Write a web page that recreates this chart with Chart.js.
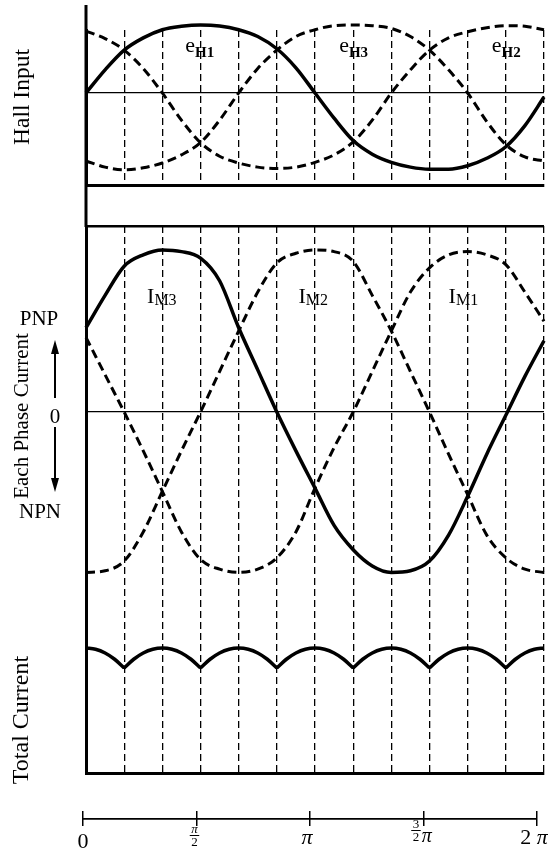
<!DOCTYPE html>
<html>
<head>
<meta charset="utf-8">
<title>Hall input, phase current and total current</title>
<script src="https://cdn.jsdelivr.net/npm/chart.js@4.4.1/dist/chart.umd.min.js"></script>
<style>
  html, body { margin: 0; padding: 0; background: #fff; }
  #wrap { position: relative; width: 548px; height: 857px; }
  #wrap canvas { position: absolute; left: 0; top: 0; }
</style>
</head>
<body>
<div id="wrap">
  <canvas id="hall" width="548" height="857"></canvas>
  <canvas id="phase" width="548" height="857"></canvas>
  <canvas id="axis" width="548" height="857"></canvas>
</div>
<script>
// electrical angle, degrees (0 .. 2π)
const angle = [0, 15, 30, 45, 60, 75, 90, 105, 120, 135, 150, 165, 180,
  195, 210, 225, 240, 255, 270, 285, 300, 315, 330, 345, 360]

// Hall sensor outputs, 1 = top of eH1
const eH1 = [0, 0.34, 0.63, 0.81, 0.93, 0.98, 1.0, 0.985, 0.93, 0.83, 0.65, 0.37, 0,
  -0.37, -0.70, -0.90, -1.02, -1.09, -1.12, -1.12, -1.07, -0.96, -0.79, -0.48, -0.06]
const eH2 = [0.91, 0.80, 0.63, 0.36, 0, -0.40, -0.73, -0.93, -1.03, -1.09, -1.11, -1.09, -1.02,
  -0.91, -0.72, -0.40, 0, 0.34, 0.63, 0.81, 0.90, 0.96, 0.99, 0.98, 0.93]
const eH3 = [-1.0, -1.09, -1.13, -1.10, -1.03, -0.91, -0.73, -0.40, 0, 0.36, 0.63, 0.83, 0.93,
  0.99, 1.0, 0.99, 0.95, 0.83, 0.63, 0.34, 0, -0.42, -0.76, -0.94, -1.0]

// phase currents, 1 = PNP peak
const iM3 = [0.52, 0.72, 0.90, 0.97, 1.0, 0.99, 0.95, 0.81, 0.52, 0.26, 0, -0.24, -0.47,
  -0.70, -0.85, -0.95, -0.99, -0.98, -0.92, -0.76, -0.52, -0.26, -0.02, 0.22, 0.44]
const iM2 = [-0.99, -0.98, -0.92, -0.74, -0.49, -0.24, 0, 0.25, 0.50, 0.74, 0.92, 0.98, 1.0,
  0.99, 0.93, 0.72, 0.50, 0.25, 0, -0.26, -0.51, -0.76, -0.90, -0.97, -0.99]
const iM1 = [0.46, 0.23, 0, -0.24, -0.49, -0.74, -0.91, -0.97, -0.99, -0.97, -0.90, -0.74, -0.47,
  -0.22, 0, 0.25, 0.50, 0.74, 0.89, 0.97, 0.99, 0.97, 0.91, 0.74, 0.56]

// total current, one arc per 60 deg; the nulls break the line at the cusps
const totalAngle = [0, 7.5, 15, 22.5, 30, 30,
  30, 37.5, 45, 52.5, 60, 67.5, 75, 82.5, 90, 90,
  90, 97.5, 105, 112.5, 120, 127.5, 135, 142.5, 150, 150,
  150, 157.5, 165, 172.5, 180, 187.5, 195, 202.5, 210, 210,
  210, 217.5, 225, 232.5, 240, 247.5, 255, 262.5, 270, 270,
  270, 277.5, 285, 292.5, 300, 307.5, 315, 322.5, 330, 330,
  330, 337.5, 345, 352.5, 360]
const totalCurrent = [1.0, 0.99, 0.96, 0.91, 0.84, null,
  0.84, 0.91, 0.96, 0.99, 1.0, 0.99, 0.96, 0.91, 0.84, null,
  0.84, 0.91, 0.96, 0.99, 1.0, 0.99, 0.96, 0.91, 0.84, null,
  0.84, 0.91, 0.96, 0.99, 1.0, 0.99, 0.96, 0.91, 0.84, null,
  0.84, 0.91, 0.96, 0.99, 1.0, 0.99, 0.96, 0.91, 0.84, null,
  0.84, 0.91, 0.96, 0.99, 1.0, 0.99, 0.96, 0.91, 0.84, null,
  0.84, 0.91, 0.96, 0.99, 1.0]

// bottom angle scale
const axisTicks = [0, 90, 180, 270, 360]
const axisLabels = ['0', 'π/2', 'π', '3/2π', '2π']

const SERIF = '"Liberation Serif", "Times New Roman", serif'
const INK = '#000'

function pts(xs, ys) {
  return ys.map((y, i) => ({ x: xs[i], y: y }))
}

function curve(label, xs, ys, dashed, axis) {
  return {
    label: label,
    data: pts(xs, ys),
    yAxisID: axis || 'y',
    borderColor: INK,
    borderWidth: dashed ? 3 : 3.5,
    borderDash: dashed ? [9, 5] : [],
    pointRadius: 0,
    cubicInterpolationMode: 'monotone',
    capBezierPoints: false,
    clip: false,
    fill: false,
  }
}

// axes take no room, the padding alone places the plot
function flat(scale) {
  if (scale.isHorizontal()) scale.height = 0
  else scale.width = 0
}

function angleAxis() {
  return {
    type: 'linear', min: 0, max: 360,
    ticks: { display: false, stepSize: 30 },
    grid: { color: INK, lineWidth: 1.3, drawTicks: false },
    border: { display: true, color: INK, width: 3, dash: [7, 4] },
    afterFit: flat,
  }
}

function baseOptions(padding, scales) {
  return {
    responsive: false,
    animation: false,
    events: [],
    layout: { padding: padding },
    plugins: { legend: { display: false }, tooltip: { enabled: false } },
    scales: scales,
  }
}

function rotatedText(ctx, text, x, y, size) {
  ctx.save()
  ctx.translate(x, y)
  ctx.rotate(-Math.PI / 2)
  ctx.font = size + 'px ' + SERIF
  ctx.fillStyle = INK
  ctx.textAlign = 'center'
  ctx.textBaseline = 'middle'
  ctx.fillText(text, 0, 0)
  ctx.restore()
}

function plainText(ctx, text, x, y) {
  ctx.save()
  ctx.font = '21px ' + SERIF
  ctx.fillStyle = INK
  ctx.textAlign = 'center'
  ctx.textBaseline = 'alphabetic'
  ctx.fillText(text, x, y)
  ctx.restore()
}

function subLabel(ctx, px, py, main, sub, subFont, drop) {
  ctx.save()
  ctx.fillStyle = INK
  ctx.textAlign = 'left'
  ctx.textBaseline = 'alphabetic'
  ctx.font = '22px ' + SERIF
  ctx.fillText(main, px, py)
  const w = ctx.measureText(main).width
  ctx.font = subFont
  ctx.fillText(sub, px + w, py + drop)
  ctx.restore()
}

function arrow(ctx, x, from, tip) {
  const dir = tip < from ? -1 : 1
  ctx.save()
  ctx.strokeStyle = INK
  ctx.fillStyle = INK
  ctx.lineWidth = 2
  ctx.beginPath()
  ctx.moveTo(x, from)
  ctx.lineTo(x, tip - dir * 12)
  ctx.stroke()
  ctx.beginPath()
  ctx.moveTo(x, tip)
  ctx.lineTo(x - 4, tip - dir * 14)
  ctx.lineTo(x + 4, tip - dir * 14)
  ctx.closePath()
  ctx.fill()
  ctx.restore()
}

// ---- Hall input panel ----
const hallNames = [
  { main: 'e', sub: 'H1', x: 78, y: 0.6 },
  { main: 'e', sub: 'H3', x: 199, y: 0.6 },
  { main: 'e', sub: 'H2', x: 319, y: 0.6 },
]

const hallDecor = {
  id: 'hallDecor',
  afterDraw(chart) {
    const ctx = chart.ctx
    const a = chart.chartArea
    // left frame line continues above and below the panel
    ctx.save()
    ctx.strokeStyle = INK
    ctx.lineWidth = 3
    ctx.beginPath()
    ctx.moveTo(a.left, 5)
    ctx.lineTo(a.left, 227)
    ctx.stroke()
    ctx.restore()
    rotatedText(ctx, 'Hall Input', 23, 97, 23.5)
    hallNames.forEach((n) => {
      subLabel(ctx, chart.scales.x.getPixelForValue(n.x), chart.scales.y.getPixelForValue(n.y),
        n.main, n.sub, 'bold 15px ' + SERIF, 5)
    })
  },
}

new Chart(document.getElementById('hall'), {
  type: 'line',
  data: {
    datasets: [
      curve('eH1', angle, eH1, false),
      curve('eH2', angle, eH2, true),
      curve('eH3', angle, eH3, true),
    ],
  },
  options: baseOptions({ left: 86, right: 4, top: 30, bottom: 672 }, {
    x: angleAxis(),
    y: {
      type: 'linear', min: -1.353, max: 0.926,
      ticks: { display: false },
      afterBuildTicks: (s) => { s.ticks = [{ value: 0 }] },
      grid: { color: INK, lineWidth: 1.2, drawTicks: false },
      border: { display: true, color: INK, width: 3 },
      afterFit: flat,
    },
  }),
  plugins: [hallDecor],
})

// ---- phase current + total current panel ----
const phaseNames = [
  { main: 'I', sub: 'M3', x: 48, y: 0.67 },
  { main: 'I', sub: 'M2', x: 167, y: 0.67 },
  { main: 'I', sub: 'M1', x: 285, y: 0.67 },
]

const phaseDecor = {
  id: 'phaseDecor',
  afterDraw(chart) {
    const ctx = chart.ctx
    rotatedText(ctx, 'Each Phase Current', 22, 416, 21)
    rotatedText(ctx, 'Total Current', 22, 720, 24)
    plainText(ctx, 'PNP', 39, 325)
    plainText(ctx, '0', 55, 423)
    plainText(ctx, 'NPN', 40, 518)
    arrow(ctx, 55, 398, 340)
    arrow(ctx, 55, 427, 492)
    phaseNames.forEach((n) => {
      subLabel(ctx, chart.scales.x.getPixelForValue(n.x), chart.scales.y.getPixelForValue(n.y),
        n.main, n.sub, '16px ' + SERIF, 2)
    })
  },
}

new Chart(document.getElementById('phase'), {
  type: 'line',
  data: {
    datasets: [
      curve('IM3', angle, iM3, false),
      curve('IM2', angle, iM2, true),
      curve('IM1', angle, iM1, true),
      curve('Total', totalAngle, totalCurrent, false, 'yTotal'),
    ],
  },
  options: baseOptions({ left: 86, right: 4, top: 226, bottom: 84 }, {
    x: angleAxis(),
    y: {
      type: 'linear', min: -2.228, max: 1.148,
      ticks: { display: false },
      afterBuildTicks: (s) => { s.ticks = [{ value: s.max }, { value: 0 }] },
      grid: {
        color: INK, drawTicks: false,
        lineWidth: (c) => (c.tick && c.tick.value === 0 ? 1.2 : 2.4),
      },
      border: { display: true, color: INK, width: 3 },
      afterFit: flat,
    },
    yTotal: {
      type: 'linear', min: 0, max: 4.376, display: false,
    },
  }),
  plugins: [phaseDecor],
})

// ---- angle scale under the plots ----
function fontFor(ch, size) {
  return (ch === 'π' ? 'italic ' : '') + size + 'px ' + SERIF
}

function runWidth(ctx, text, size) {
  let w = 0
  for (const ch of text) {
    ctx.font = fontFor(ch, size)
    w += ctx.measureText(ch).width
  }
  return w
}

function drawRun(ctx, text, x, y, size) {
  for (const ch of text) {
    ctx.font = fontFor(ch, size)
    ctx.fillText(ch, x, y)
    x += ctx.measureText(ch).width
  }
}

function angleLabel(ctx, label, px) {
  ctx.save()
  ctx.fillStyle = INK
  ctx.strokeStyle = INK
  ctx.textAlign = 'left'
  ctx.textBaseline = 'alphabetic'
  const big = 22
  const frac = label.match(/^(.)\/(.)(.*)$/)
  if (!frac) {
    const text = label.replace(/(\d)π/, '$1 π')
    const w = runWidth(ctx, text, big)
    const shift = label === '0' ? 0 : -3
    drawRun(ctx, text, px - w / 2 + shift, label === '0' ? 848 : 844, big)
  } else {
    const small = 13
    const nw = runWidth(ctx, frac[1], small)
    const dw = runWidth(ctx, frac[2], small)
    const fw = Math.max(nw, dw) + 3
    const rw = frac[3] ? runWidth(ctx, frac[3], 20) + 1 : 0
    const left = px - (fw + rw) / 2 - 2
    const top = frac[3] ? 829 : 834
    drawRun(ctx, frac[1], left + (fw - nw) / 2, top - 1, small)
    ctx.lineWidth = 1
    ctx.beginPath()
    ctx.moveTo(left, top + 1.5)
    ctx.lineTo(left + fw, top + 1.5)
    ctx.stroke()
    drawRun(ctx, frac[2], left + (fw - dw) / 2, top + 12, small)
    if (frac[3]) drawRun(ctx, frac[3], left + fw + 1, 842, 20)
  }
  ctx.restore()
}

const tickText = {
  id: 'tickText',
  afterDraw(chart) {
    const x = chart.scales.x
    axisTicks.forEach((v, i) => angleLabel(chart.ctx, axisLabels[i], x.getPixelForValue(v)))
  },
}

new Chart(document.getElementById('axis'), {
  type: 'line',
  data: { datasets: [] },
  options: baseOptions({ left: 83, right: 11, top: 811, bottom: 31 }, {
    x: {
      type: 'linear', min: 0, max: 360,
      ticks: { display: false, stepSize: 90 },
      grid: { color: INK, lineWidth: 1.5, drawTicks: false },
      border: { display: false },
      afterFit: flat,
    },
    y: {
      type: 'linear', min: -1, max: 1,
      ticks: { display: false },
      afterBuildTicks: (s) => { s.ticks = [{ value: 0 }] },
      grid: { color: INK, lineWidth: 1.8, drawTicks: false },
      border: { display: false },
      afterFit: flat,
    },
  }),
  plugins: [tickText],
})
</script>
</body>
</html>
